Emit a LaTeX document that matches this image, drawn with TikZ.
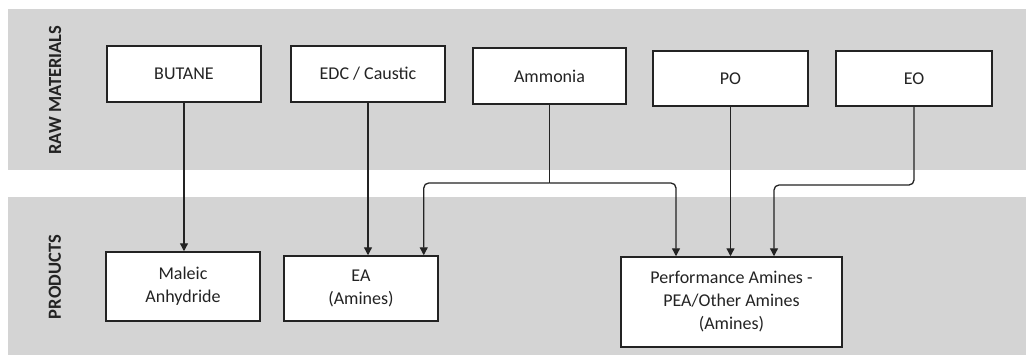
\documentclass[tikz,border=0pt]{standalone}
\usepackage{fontspec}
\setmainfont{Carlito}
\usetikzlibrary{arrows.meta,calc}
\definecolor{band}{RGB}{212,212,212}
\definecolor{ink}{RGB}{35,35,35}
\tikzset{
  band/.style={fill=band,draw=none},
  box/.style={draw=ink,fill=white,line width=1.5pt,inner sep=2pt,align=center,
    font=\fontsize{18}{23}\selectfont,text=ink},
  lab/.style={rotate=90,font=\bfseries\fontsize{18.5}{20}\selectfont,text=ink},
  arr/.style={draw=ink,line width=1.3pt,-{Triangle[length=8pt,width=8pt]}},
  lin/.style={draw=ink,line width=1.3pt},
}
\begin{document}
\begin{tikzpicture}[x=1pt,y=-1pt]
\useasboundingbox (0,0) rectangle (1029,356);
\fill[band] (8,9) rectangle (1026,170);
\fill[band] (8,197) rectangle (1026,355);
\node[lab] (rawlab) at (55,90) {RAW MATERIALS};
\node[lab] (prodlab) at (55,277) {PRODUCTS};
% raw materials
\node[box,minimum width=154pt,minimum height=56pt] (butane) at (184,74) {BUTANE};
\node[box,minimum width=154pt,minimum height=56pt] (edc) at (368,74) {EDC / Caustic};
\node[box,minimum width=153pt,minimum height=56pt] (amm) at (549.5,76) {Ammonia};
\node[box,minimum width=155pt,minimum height=55pt] (po) at (730.5,78.5) {PO};
\node[box,minimum width=156pt,minimum height=55pt] (eo) at (914,78.5) {EO};
% products
\node[box,minimum width=154pt,minimum height=69pt] (maleic) at (183,286.5) {Maleic\\Anhydride};
\node[box,minimum width=154pt,minimum height=65pt] (ea) at (361,288.5) {EA\\(Amines)};
\node[box,minimum width=221pt,minimum height=90pt] (perf) at (731.5,302) {Performance Amines -\\PEA/Other Amines\\(Amines)};
% coordinates
\coordinate (jA) at (549.5,183);
\coordinate (eaIn) at ([xshift=-15pt]ea.north east);
\coordinate (perfA) at (676,0);
\coordinate (perfC) at (774,0);
\coordinate (jE) at (774,185);
% connectors
\draw[arr] (butane.south) -- (butane.south |- maleic.north);
\draw[arr] (edc.south) -- (edc.south |- ea.north);
\draw[lin] (amm.south) -- (jA);
\draw[arr,rounded corners=5pt] (jA) -| (eaIn);
\draw[arr,rounded corners=5pt] (jA) -| (perfA |- perf.north);
\draw[arr] (po.south) -- (po.south |- perf.north);
\draw[arr,rounded corners=5pt] (eo.south) -- (eo.south |- jE) -| (perfC |- perf.north);
\end{tikzpicture}
\end{document}
